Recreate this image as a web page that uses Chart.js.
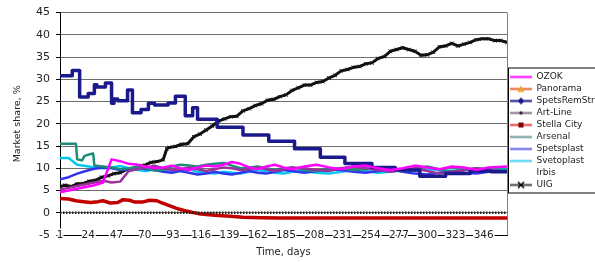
<!DOCTYPE html>
<html>
<head>
<meta charset="utf-8">
<script src="https://cdn.jsdelivr.net/npm/chart.js@4"></script>
<style>
  html, body { margin: 0; padding: 0; background: #fff; overflow: hidden; }
</style>
</head>
<body>
<canvas id="myChart" width="595" height="262"></canvas>
<script>
// x axis tick labels (days)
var dayTicks = [1, 24, 47, 70, 93, 116, 139, 162, 185, 208, 231, 254, 277, 300, 323, 346];

// UIG
var uigDays  = [1, 5, 10, 15, 20, 25, 30, 35, 40, 45, 50, 55, 60, 65, 70, 75, 80, 85, 88, 90, 95, 100, 105, 110, 115, 120, 125, 130, 135, 140, 145, 150, 155, 160, 165, 170, 175, 180, 185, 190, 195, 200, 205, 210, 215, 220, 225, 230, 235, 240, 245, 250, 255, 260, 265, 270, 275, 280, 285, 290, 295, 300, 305, 310, 315, 320, 325, 330, 335, 340, 345, 350, 355, 360, 365];
var uigShare = [5.8, 6.2, 5.9, 6.5, 6.6, 7.1, 7.3, 8.0, 8.3, 8.8, 9.0, 9.7, 9.9, 10.5, 10.7, 11.3, 11.5, 11.9, 14.4, 14.7, 14.9, 15.4, 15.5, 17.1, 17.7, 18.6, 19.5, 20.6, 21.1, 21.6, 21.7, 22.9, 23.4, 24.1, 24.5, 25.3, 25.5, 26.1, 26.5, 27.5, 28.1, 28.7, 28.7, 29.3, 29.5, 30.3, 30.9, 31.9, 32.2, 32.7, 32.9, 33.5, 33.7, 34.7, 35.1, 36.3, 36.7, 37.1, 36.7, 36.3, 35.4, 35.5, 36.1, 37.3, 37.5, 38.1, 37.5, 37.9, 38.3, 38.9, 39.1, 39.1, 38.7, 38.7, 38.3];

// SpetsRemStroi (stepped)
var spetsRemDays  = [1, 11, 17, 24, 29, 31, 38, 43, 45, 48, 56, 60, 67, 73, 78, 89, 95, 103, 109, 113, 129, 150, 171, 192, 213, 233, 255, 274, 294, 315, 335, 352, 365];
var spetsRemShare = [30.5, 30.8, 32.0, 26.0, 26.8, 28.8, 28.3, 29.2, 24.6, 25.6, 25.2, 27.6, 22.5, 23.2, 24.6, 24.2, 24.7, 26.2, 21.8, 23.6, 21.0, 19.2, 17.5, 16.1, 14.4, 12.5, 11.1, 10.2, 9.6, 8.2, 8.8, 9.4, 9.2];

// Stella City
var stellaDays  = [1, 8, 14, 20, 26, 32, 36, 42, 48, 52, 58, 62, 68, 74, 80, 84, 90, 96, 102, 108, 114, 120, 130, 140, 150, 165, 180, 200, 250, 300, 365];
var stellaShare = [3.2, 3.1, 2.7, 2.5, 2.3, 2.5, 2.7, 2.2, 2.3, 2.9, 2.8, 2.4, 2.4, 2.8, 2.7, 2.2, 1.6, 1.0, 0.5, 0.1, -0.2, -0.4, -0.6, -0.8, -1.0, -1.1, -1.2, -1.2, -1.2, -1.2, -1.2];

// Panorama
var panoramaDays  = [1, 365];
var panoramaShare = [0, 0];

// Arsenal
var arsenalDays  = [1, 14, 15, 19, 21, 26, 28, 29, 36, 43, 50, 57, 64, 71, 78, 85, 92, 99, 106, 113, 120, 127, 134, 141, 148, 155, 162, 169, 176, 183, 190, 200, 210, 220, 230, 240, 250, 260, 270, 280, 290, 300, 310, 320, 330, 340, 350, 365];
var arsenalShare = [15.5, 15.5, 12.0, 11.8, 12.8, 13.2, 13.3, 10.6, 10.4, 10.2, 9.8, 10.0, 10.3, 10.0, 9.5, 9.6, 10.4, 10.8, 10.6, 10.4, 10.8, 11.0, 11.2, 10.6, 10.0, 10.2, 10.4, 10.0, 9.6, 10.0, 10.2, 9.6, 9.4, 9.8, 10.0, 9.6, 9.8, 10.2, 9.6, 9.4, 10.0, 10.4, 9.8, 9.2, 9.6, 10.0, 9.8, 9.6];

// days shared by the series around 10%
var midDays = [1, 8, 15, 22, 29, 36, 43, 50, 57, 64, 71, 78, 85, 92, 99, 106, 113, 120, 127, 134, 141, 148, 155, 162, 169, 176, 183, 190, 200, 210, 220, 230, 240, 250, 260, 270, 280, 290, 300, 310, 320, 330, 340, 350, 365];

var svetoplastShare = [12.3, 12.3, 10.8, 10.5, 10.2, 10.0, 10.2, 10.5, 10.0, 9.6, 9.4, 9.8, 9.4, 9.2, 9.6, 9.8, 9.2, 9.0, 8.8, 9.2, 9.0, 8.8, 9.2, 9.6, 9.4, 9.0, 8.8, 9.2, 9.4, 9.0, 8.8, 9.2, 9.6, 9.4, 9.0, 9.2, 9.6, 9.4, 9.8, 9.6, 9.4, 9.8, 9.6, 10.0, 9.8];
var spetsplastShare = [7.5, 8.0, 8.8, 9.4, 9.9, 10.2, 10.0, 9.6, 9.8, 10.2, 9.8, 9.6, 9.2, 9.0, 9.4, 9.0, 8.6, 8.8, 9.2, 8.8, 8.6, 9.0, 9.4, 9.0, 8.8, 9.2, 9.6, 9.4, 9.0, 9.4, 9.8, 9.6, 9.2, 9.0, 9.4, 9.8, 9.2, 8.8, 8.6, 9.0, 9.4, 9.0, 8.8, 9.2, 9.6];
var ozokShare       = [4.6, 5.0, 5.4, 5.8, 6.2, 6.8, 12.0, 11.6, 11.0, 10.8, 10.4, 10.0, 10.2, 10.6, 10.0, 9.6, 10.2, 10.6, 10.4, 10.8, 11.4, 11.0, 10.2, 9.8, 10.4, 10.8, 10.2, 9.8, 10.4, 10.8, 10.2, 9.8, 10.4, 10.6, 10.0, 9.6, 10.0, 10.6, 10.2, 9.8, 10.4, 10.2, 9.6, 10.2, 10.4];
var artLineShare    = [5.2, 5.6, 6.0, 6.4, 6.8, 7.2, 6.8, 7.0, 9.4, 9.8, 10.2, 10.6, 10.0, 9.6, 9.8, 10.2, 9.8, 9.4, 9.8, 10.2, 10.0, 9.6, 9.8, 10.2, 9.8, 9.4, 9.8, 10.2, 10.0, 9.6, 9.4, 10.0, 10.4, 10.0, 9.6, 9.2, 9.6, 10.0, 9.4, 8.8, 9.2, 9.6, 10.0, 9.6, 9.2];

// Irbis (not visible in the chart)
var irbisDays  = [1, 365];
var irbisShare = [0, 0];

function pts(days, vals) {
    return days.map(function(d, i) { return {x: d, y: vals[i]}; });
}

// small legend sample: line with marker in the middle
function legendIcon(color, marker, markerColor) {
    var c = document.createElement('canvas');
    c.width = 22; c.height = 9;
    var g = c.getContext('2d');
    if (color) {
        g.strokeStyle = color; g.lineWidth = 2;
        g.beginPath(); g.moveTo(0, 4.5); g.lineTo(22, 4.5); g.stroke();
    }
    g.fillStyle = markerColor || color;
    g.strokeStyle = markerColor || color;
    if (marker === 'diamond') {
        g.beginPath(); g.moveTo(11, 1); g.lineTo(14.5, 4.5); g.lineTo(11, 8); g.lineTo(7.5, 4.5); g.closePath(); g.fill();
    } else if (marker === 'triangle') {
        g.beginPath(); g.moveTo(11, 1); g.lineTo(14.5, 7.5); g.lineTo(7.5, 7.5); g.closePath(); g.fill();
    } else if (marker === 'square') {
        g.fillRect(8.5, 2, 5, 5);
    } else if (marker === 'dot') {
        g.beginPath(); g.arc(11, 4.5, 1.8, 0, Math.PI * 2); g.fill();
    } else if (marker === 'cross') {
        g.lineWidth = 1.5;
        g.beginPath(); g.moveTo(8, 1.5); g.lineTo(14, 7.5); g.moveTo(14, 1.5); g.lineTo(8, 7.5); g.stroke();
    }
    return c;
}

var ctx = document.getElementById('myChart');

var borderPlugin = {
    id: 'borders',
    afterDraw: function(chart) {
        var g = chart.ctx, a = chart.chartArea;
        g.save();
        g.strokeStyle = '#808080'; g.lineWidth = 1;
        g.beginPath(); g.moveTo(a.right + 0.5, a.top); g.lineTo(a.right + 0.5, a.bottom); g.stroke();
        // box around legend
        var hb = chart.legend.legendHitBoxes;
        if (hb && hb.length) {
            var top = hb[0].top, bottom = hb[hb.length - 1].top + hb[hb.length - 1].height;
            g.strokeStyle = '#000';
            g.strokeRect(chart.legend.left + 1.5, top - 4.5, 120, bottom - top + 8);
        }
        g.restore();
    }
};

var myChart = new Chart(ctx, {
    type: 'line',
    data: {
        datasets: [
            {label: 'OZOK', data: pts(midDays, ozokShare), borderColor: '#FF00FF', borderWidth: 2.5,
             icon: legendIcon('#FF00FF')},
            {label: 'Panorama', data: pts(panoramaDays, panoramaShare), borderColor: '#2a2018', borderWidth: 2.5, borderDash: [1.5, 1.5],
             icon: legendIcon('#E8602C', 'triangle', '#F0A030')},
            {label: 'SpetsRemStroi', data: pts(spetsRemDays, spetsRemShare), borderColor: '#1A1A8C', borderWidth: 3.5, stepped: 'after',
             icon: legendIcon('#1A1A8C', 'diamond')},
            {label: 'Art-Line', data: pts(midDays, artLineShare), borderColor: '#993399', borderWidth: 2.5,
             icon: legendIcon('#8A7090', 'dot', '#402040')},
            {label: 'Stella City', data: pts(stellaDays, stellaShare), borderColor: '#C00000', borderWidth: 3.5,
             icon: legendIcon('#E04040', 'square', '#800000')},
            {label: 'Arsenal', data: pts(arsenalDays, arsenalShare), borderColor: '#1E8C78', borderWidth: 2.5,
             icon: legendIcon('#6A9A9A')},
            {label: 'Spetsplast', data: pts(midDays, spetsplastShare), borderColor: '#3333EE', borderWidth: 2.5,
             icon: legendIcon('#6060E0')},
            {label: 'Svetoplast', data: pts(midDays, svetoplastShare), borderColor: '#00C8F0', borderWidth: 2.5,
             icon: legendIcon('#40D0F0')},
            {label: 'Irbis', data: pts(irbisDays, irbisShare), borderColor: 'rgba(255,255,255,0)', borderWidth: 0,
             icon: legendIcon(null)},
            {label: 'UIG', data: pts(uigDays, uigShare), borderColor: '#111', borderWidth: 3,
             pointStyle: 'crossRot', pointRadius: 2.5, pointBorderColor: '#111', pointBorderWidth: 1,
             icon: legendIcon('#404040', 'cross', '#000')}
        ]
    },
    options: {
        responsive: false,
        animation: false,
        events: [],
        elements: {
            point: {radius: 0},
            line: {tension: 0, borderJoinStyle: 'round'}
        },
        layout: {padding: 0},
        plugins: {
            tooltip: {enabled: false},
            legend: {
                position: 'right',
                maxWidth: 88,
                labels: {
                    usePointStyle: true,
                    pointStyleWidth: 22,
                    padding: 3,
                    color: '#222',
                    font: {family: 'DejaVu Sans', size: 9, lineHeight: 1.05},
                    generateLabels: function(chart) {
                        return chart.data.datasets.map(function(ds, i) {
                            return {text: ds.label, pointStyle: ds.icon, datasetIndex: i,
                                    fillStyle: 'transparent', strokeStyle: 'transparent', lineWidth: 0, fontColor: '#222'};
                        });
                    }
                }
            }
        },
        scales: {
            x: {
                type: 'linear',
                min: 1,
                max: 365,
                afterBuildTicks: function(scale) {
                    scale.ticks = dayTicks.map(function(v) { return {value: v}; });
                },
                afterFit: function(scale) { scale.height = 27; },
                // labels sit on the axis line, so don't clip them to the scale box
                afterUpdate: function(scale) { scale._computeLabelArea = function() { return undefined; }; },
                grid: {drawOnChartArea: false, drawTicks: false},
                border: {color: '#000', width: 1},
                ticks: {
                    autoSkip: false,
                    maxRotation: 0,
                    padding: -6.5,
                    color: '#222',
                    font: {family: 'DejaVu Sans', size: 10.5},
                    textStrokeColor: '#fff',
                    textStrokeWidth: 3,
                    z: 2,
                    callback: function(v) { return v; }
                },
                title: {
                    display: true,
                    text: 'Time, days',
                    color: '#222',
                    font: {family: 'DejaVu Sans', size: 10},
                    padding: {top: 0, bottom: 4}
                }
            },
            y: {
                min: -5,
                max: 45,
                afterFit: function(scale) { scale.width = 60; },
                grid: {
                    color: function(c) { return c.tick && c.tick.value === -5 ? 'rgba(0,0,0,0)' : '#6e6e6e'; },
                    tickLength: 4,
                    tickColor: '#000'
                },
                border: {color: '#000', width: 1},
                ticks: {
                    stepSize: 5,
                    padding: 6,
                    color: '#222',
                    font: {family: 'DejaVu Sans', size: 11}
                },
                title: {
                    display: true,
                    text: 'Market share, %',
                    color: '#222',
                    font: {family: 'DejaVu Sans', size: 9.5},
                    padding: {top: 12, bottom: 0}
                }
            }
        }
    },
    plugins: [borderPlugin]
});
</script>
</body>
</html>
